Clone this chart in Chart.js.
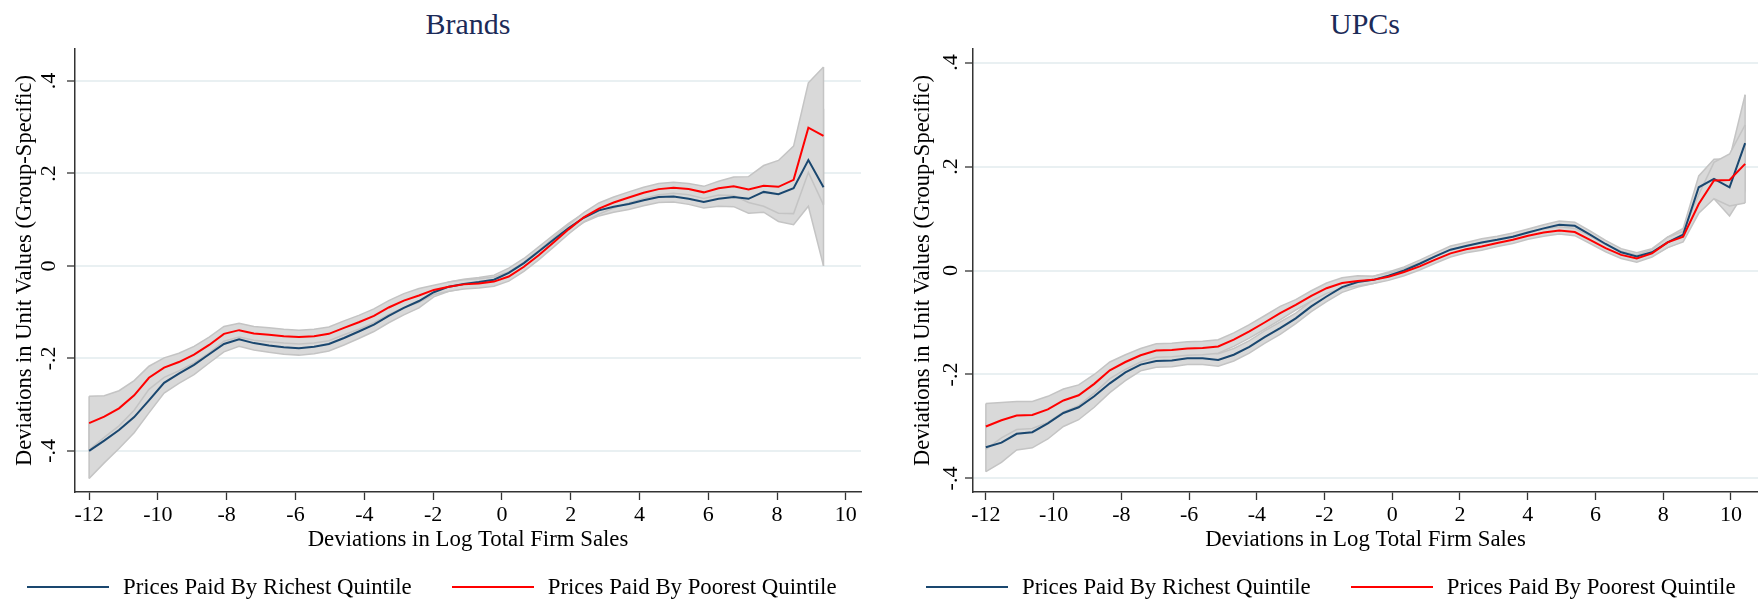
<!DOCTYPE html>
<html lang="en">
<head>
  <meta charset="UTF-8" />
  <title>Brands and UPCs</title>
  <script src="https://cdn.jsdelivr.net/npm/chart.js@4.4.0/dist/chart.umd.min.js"></script>
  <style>
    html, body { margin: 0; padding: 0; background: #fff; }
    body {
      width: 1758px; height: 602px;
      position: relative; overflow: hidden;
      font-family: 'Liberation Serif', 'Times New Roman', serif;
    }
    .box { position: absolute; top: 0; height: 602px; }
    .title {
      position: absolute; top: 9px;
      font-size: 30px; line-height: 1; color: #1c2b58;
      transform: translateX(-50%); white-space: nowrap;
    }
    .legend {
      position: absolute; top: 576px;
      display: flex; align-items: center;
      font-size: 22.8px; line-height: 1; color: #000; white-space: nowrap;
    }
    .legend .item { display: flex; align-items: center; }
    .legend .item + .item { margin-left: 40px; }
    .legend .sw { display: inline-block; width: 82px; height: 2px; margin-right: 14px; }
  </style>
</head>
<body>
  <div class="title" style="left:468px">Brands</div>
  <div class="title" style="left:1365px">UPCs</div>

  <div class="box" style="left:0;width:862px"><canvas id="brands"></canvas></div>
  <div class="box" style="left:900px;width:858px"><canvas id="upcs"></canvas></div>

  <div class="legend" style="left:27px">
    <span class="item"><span class="sw" style="background:#1a476f"></span>Prices Paid By Richest Quintile</span>
    <span class="item"><span class="sw" style="background:#ff0000"></span>Prices Paid By Poorest Quintile</span>
  </div>
  <div class="legend" style="left:926px">
    <span class="item"><span class="sw" style="background:#1a476f"></span>Prices Paid By Richest Quintile</span>
    <span class="item"><span class="sw" style="background:#ff0000"></span>Prices Paid By Poorest Quintile</span>
  </div>

  <script>
    // tick labels (Stata style)
    const xTickValues = [-12, -10, -8, -6, -4, -2, 0, 2, 4, 6, 8, 10];
    const xTickText = ['-12', '-10', '-8', '-6', '-4', '-2', '0', '2', '4', '6', '8', '10'];
    const yTickValues = [-0.4, -0.2, 0, 0.2, 0.4];
    const yTickText = ['-.4', '-.2', '0', '.2', '.4'];

    // Brands panel
    const brandsX = [-12.00, -11.56, -11.13, -10.69, -10.26, -9.82, -9.39, -8.95, -8.51, -8.08,
      -7.64, -7.21, -6.77, -6.34, -5.90, -5.46, -5.03, -4.59, -4.16, -3.72,
      -3.29, -2.85, -2.41, -1.98, -1.54, -1.11, -0.67, -0.23, 0.20, 0.64,
      1.07, 1.51, 1.94, 2.38, 2.82, 3.25, 3.69, 4.12, 4.56, 4.99,
      5.43, 5.87, 6.30, 6.74, 7.17, 7.61, 8.04, 8.48, 8.91, 9.35];
    const brandsRich = [-0.400, -0.378, -0.355, -0.327, -0.291, -0.253, -0.233, -0.214, -0.191, -0.169,
      -0.159, -0.167, -0.172, -0.176, -0.178, -0.175, -0.169, -0.156, -0.142, -0.127,
      -0.108, -0.091, -0.076, -0.057, -0.045, -0.039, -0.035, -0.030, -0.015, 0.006,
      0.031, 0.057, 0.082, 0.104, 0.120, 0.128, 0.134, 0.142, 0.149, 0.150,
      0.145, 0.138, 0.145, 0.149, 0.145, 0.160, 0.155, 0.168, 0.229, 0.170];
    const brandsRichLo = [-0.460, -0.426, -0.395, -0.361, -0.318, -0.275, -0.254, -0.235, -0.210, -0.186,
      -0.174, -0.182, -0.187, -0.191, -0.193, -0.190, -0.184, -0.171, -0.157, -0.142,
      -0.123, -0.106, -0.091, -0.067, -0.055, -0.049, -0.045, -0.040, -0.025, -0.004,
      0.021, 0.047, 0.072, 0.094, 0.108, 0.116, 0.122, 0.130, 0.137, 0.138,
      0.133, 0.125, 0.129, 0.128, 0.114, 0.116, 0.096, 0.089, 0.129, 0.000];
    const brandsRichHi = [-0.340, -0.330, -0.315, -0.293, -0.264, -0.231, -0.212, -0.193, -0.172, -0.152,
      -0.144, -0.152, -0.157, -0.161, -0.163, -0.160, -0.154, -0.141, -0.127, -0.112,
      -0.093, -0.076, -0.061, -0.047, -0.035, -0.029, -0.025, -0.020, -0.005, 0.016,
      0.041, 0.067, 0.092, 0.114, 0.132, 0.140, 0.146, 0.154, 0.161, 0.162,
      0.157, 0.151, 0.161, 0.170, 0.176, 0.204, 0.214, 0.247, 0.329, 0.340];
    const brandsPoor = [-0.340, -0.326, -0.308, -0.280, -0.242, -0.220, -0.208, -0.192, -0.171, -0.147,
      -0.139, -0.146, -0.149, -0.152, -0.154, -0.152, -0.147, -0.134, -0.122, -0.108,
      -0.090, -0.075, -0.064, -0.052, -0.045, -0.040, -0.038, -0.034, -0.023, -0.002,
      0.023, 0.051, 0.079, 0.105, 0.124, 0.137, 0.148, 0.158, 0.166, 0.169,
      0.166, 0.159, 0.168, 0.172, 0.165, 0.173, 0.171, 0.186, 0.299, 0.281];
    const brandsPoorLo = [-0.398, -0.371, -0.346, -0.312, -0.267, -0.241, -0.227, -0.210, -0.188, -0.163,
      -0.154, -0.161, -0.164, -0.167, -0.169, -0.167, -0.162, -0.149, -0.137, -0.123,
      -0.105, -0.090, -0.079, -0.062, -0.055, -0.050, -0.048, -0.044, -0.033, -0.012,
      0.013, 0.041, 0.069, 0.095, 0.112, 0.125, 0.136, 0.146, 0.154, 0.157,
      0.154, 0.146, 0.153, 0.152, 0.137, 0.129, 0.114, 0.113, 0.202, 0.132];
    const brandsPoorHi = [-0.282, -0.281, -0.270, -0.248, -0.217, -0.199, -0.189, -0.174, -0.154, -0.131,
      -0.124, -0.131, -0.134, -0.137, -0.139, -0.137, -0.132, -0.119, -0.107, -0.093,
      -0.075, -0.060, -0.049, -0.042, -0.035, -0.030, -0.028, -0.024, -0.013, 0.008,
      0.033, 0.061, 0.089, 0.115, 0.136, 0.149, 0.160, 0.170, 0.178, 0.181,
      0.178, 0.172, 0.183, 0.192, 0.193, 0.217, 0.228, 0.259, 0.396, 0.430];

    // UPCs panel
    const upcsX = [-12.00, -11.54, -11.09, -10.63, -10.17, -9.71, -9.26, -8.80, -8.34, -7.88,
      -7.43, -6.97, -6.51, -6.05, -5.60, -5.14, -4.68, -4.22, -3.77, -3.31,
      -2.85, -2.39, -1.94, -1.48, -1.02, -0.56, -0.11, 0.35, 0.81, 1.27,
      1.72, 2.18, 2.64, 3.10, 3.56, 4.01, 4.47, 4.93, 5.39, 5.84,
      6.30, 6.76, 7.22, 7.67, 8.13, 8.59, 9.05, 9.50, 9.96, 10.42];
    const upcsRich = [-0.340, -0.331, -0.314, -0.311, -0.294, -0.274, -0.263, -0.242, -0.217, -0.196,
      -0.181, -0.174, -0.173, -0.169, -0.169, -0.172, -0.162, -0.147, -0.128, -0.111,
      -0.092, -0.069, -0.050, -0.032, -0.022, -0.018, -0.010, 0.000, 0.013, 0.027,
      0.040, 0.047, 0.054, 0.059, 0.065, 0.073, 0.081, 0.088, 0.086, 0.069,
      0.051, 0.035, 0.027, 0.035, 0.054, 0.069, 0.160, 0.176, 0.160, 0.245];
    const upcsRichLo = [-0.387, -0.369, -0.345, -0.341, -0.324, -0.300, -0.287, -0.263, -0.235, -0.212,
      -0.193, -0.186, -0.185, -0.181, -0.181, -0.184, -0.174, -0.159, -0.140, -0.123,
      -0.102, -0.079, -0.060, -0.042, -0.032, -0.025, -0.017, -0.007, 0.006, 0.020,
      0.033, 0.040, 0.047, 0.052, 0.058, 0.066, 0.074, 0.081, 0.079, 0.062,
      0.044, 0.028, 0.020, 0.028, 0.044, 0.057, 0.138, 0.138, 0.105, 0.152];
    const upcsRichHi = [-0.293, -0.293, -0.283, -0.281, -0.264, -0.248, -0.239, -0.221, -0.199, -0.180,
      -0.169, -0.162, -0.161, -0.157, -0.157, -0.160, -0.150, -0.135, -0.116, -0.099,
      -0.082, -0.059, -0.040, -0.022, -0.012, -0.011, -0.003, 0.007, 0.020, 0.034,
      0.047, 0.054, 0.061, 0.066, 0.072, 0.080, 0.088, 0.095, 0.093, 0.076,
      0.058, 0.042, 0.034, 0.042, 0.064, 0.081, 0.182, 0.214, 0.215, 0.338];
    const upcsPoor = [-0.300, -0.288, -0.279, -0.278, -0.267, -0.250, -0.240, -0.218, -0.192, -0.176,
      -0.163, -0.154, -0.153, -0.150, -0.149, -0.146, -0.133, -0.117, -0.100, -0.082,
      -0.066, -0.049, -0.034, -0.024, -0.020, -0.018, -0.012, -0.003, 0.008, 0.021,
      0.033, 0.041, 0.046, 0.053, 0.059, 0.067, 0.073, 0.077, 0.074, 0.059,
      0.043, 0.030, 0.023, 0.033, 0.054, 0.065, 0.128, 0.173, 0.174, 0.205];
    const upcsPoorLo = [-0.344, -0.322, -0.306, -0.304, -0.292, -0.272, -0.260, -0.236, -0.208, -0.190,
      -0.176, -0.167, -0.166, -0.163, -0.162, -0.159, -0.146, -0.130, -0.113, -0.095,
      -0.076, -0.059, -0.044, -0.034, -0.030, -0.025, -0.019, -0.010, 0.001, 0.014,
      0.026, 0.034, 0.039, 0.046, 0.052, 0.060, 0.066, 0.070, 0.067, 0.052,
      0.036, 0.023, 0.016, 0.026, 0.044, 0.055, 0.110, 0.138, 0.124, 0.130];
    const upcsPoorHi = [-0.256, -0.254, -0.252, -0.252, -0.242, -0.228, -0.220, -0.200, -0.176, -0.162,
      -0.150, -0.141, -0.140, -0.137, -0.136, -0.133, -0.120, -0.104, -0.087, -0.069,
      -0.056, -0.039, -0.024, -0.014, -0.010, -0.011, -0.005, 0.004, 0.015, 0.028,
      0.040, 0.048, 0.053, 0.060, 0.066, 0.074, 0.080, 0.084, 0.081, 0.066,
      0.050, 0.037, 0.030, 0.040, 0.064, 0.075, 0.146, 0.208, 0.224, 0.280];

    const NAVY = '#1a476f';
    const RED = '#ff0000';
    const BAND = '#d9d9d9';
    const BAND_EDGE = '#c4c4c4';

    Chart.defaults.font.family = "'Liberation Serif', 'Times New Roman', serif";
    Chart.defaults.color = '#000';

    function pts(xs, ys) {
      return xs.map((x, i) => ({ x: x, y: ys[i] }));
    }

    // closing vertical edges of a shaded band at its first and last x
    function edges(xs, lo, hi) {
      const n = xs.length - 1;
      return [
        { x: xs[0], y: lo[0] }, { x: xs[0], y: hi[0] }, { x: xs[0], y: null },
        { x: xs[n], y: lo[n] }, { x: xs[n], y: hi[n] }
      ];
    }

    function bandSets(xs, lo, hi, baseOrder) {
      const edge = { borderColor: BAND_EDGE, borderWidth: 1.5, pointRadius: 0, fill: false };
      return [
        { data: pts(xs, lo), borderWidth: 0, pointRadius: 0, fill: false, order: baseOrder + 2 },
        { data: pts(xs, hi), borderWidth: 0, pointRadius: 0, fill: '-1', backgroundColor: BAND, order: baseOrder + 1 },
        Object.assign({ data: pts(xs, lo), order: baseOrder }, edge),
        Object.assign({ data: pts(xs, hi), order: baseOrder }, edge),
        Object.assign({ data: edges(xs, lo, hi), order: baseOrder, spanGaps: false }, edge)
      ];
    }

    function makeChart(id, p) {
      const datasets = []
        .concat(bandSets(p.x, p.richLo, p.richHi, 7))
        .concat(bandSets(p.x, p.poorLo, p.poorHi, 3))
        .concat([
          { data: pts(p.x, p.rich), borderColor: NAVY, borderWidth: 2, pointRadius: 0, fill: false, order: 1 },
          { data: pts(p.x, p.poor), borderColor: RED, borderWidth: 2, pointRadius: 0, fill: false, order: 0 }
        ]);

      return new Chart(document.getElementById(id), {
        type: 'line',
        data: { datasets: datasets },
        options: {
          responsive: true,
          maintainAspectRatio: false,
          animation: false,
          layout: { padding: { top: 49, right: p.padRight, bottom: 48, left: 0 } },
          plugins: { legend: { display: false }, tooltip: { enabled: false } },
          elements: { line: { tension: 0 } },
          scales: {
            x: {
              type: 'linear',
              min: p.xMin, max: p.xMax,
              afterBuildTicks: s => { s.ticks = xTickValues.map(v => ({ value: v })); },
              afterFit: s => { s.height = 62; },
              ticks: {
                padding: 2, maxRotation: 0, autoSkip: false, includeBounds: false,
                font: { size: 22 },
                callback: (v, i) => xTickText[i]
              },
              grid: { drawOnChartArea: false, drawTicks: true, tickLength: 8, tickColor: '#333', tickWidth: 1.3 },
              border: { display: true, color: '#333', width: 1.5 },
              title: {
                display: true, text: 'Deviations in Log Total Firm Sales',
                font: { size: 22.8 }, padding: { top: 0, bottom: 0 }
              }
            },
            y: {
              type: 'linear',
              min: p.yMin, max: p.yMax,
              afterBuildTicks: s => { s.ticks = yTickValues.map(v => ({ value: v })); },
              afterFit: s => { s.width = p.yWidth; },
              ticks: {
                minRotation: 90, crossAlign: 'center', padding: p.yTickPad,
                includeBounds: false, font: { size: 22 },
                callback: (v, i) => yTickText[i]
              },
              grid: {
                color: '#e9f0f2', lineWidth: 2,
                drawTicks: true, tickLength: 8, tickColor: '#333', tickWidth: 1.3
              },
              border: { display: true, color: '#333', width: 1.5 },
              title: {
                display: true, text: 'Deviations in Unit Values (Group-Specific)',
                font: { size: 22.5 }, padding: { top: p.yTitlePad, bottom: 0 }
              }
            }
          }
        }
      });
    }

    makeChart('brands', {
      x: brandsX, rich: brandsRich, richLo: brandsRichLo, richHi: brandsRichHi,
      poor: brandsPoor, poorLo: brandsPoorLo, poorHi: brandsPoorHi,
      xMin: -12.41, xMax: 10.44, yMin: -0.489, yMax: 0.469,
      yWidth: 75, yTickPad: 6, yTitlePad: 11.5, padRight: 1
    });

    makeChart('upcs', {
      x: upcsX, rich: upcsRich, richLo: upcsRichLo, richHi: upcsRichHi,
      poor: upcsPoor, poorLo: upcsPoorLo, poorHi: upcsPoorHi,
      xMin: -12.38, xMax: 10.80, yMin: -0.426, yMax: 0.426,
      yWidth: 73, yTickPad: 2, yTitlePad: 9.5, padRight: 0
    });
  </script>
</body>
</html>
